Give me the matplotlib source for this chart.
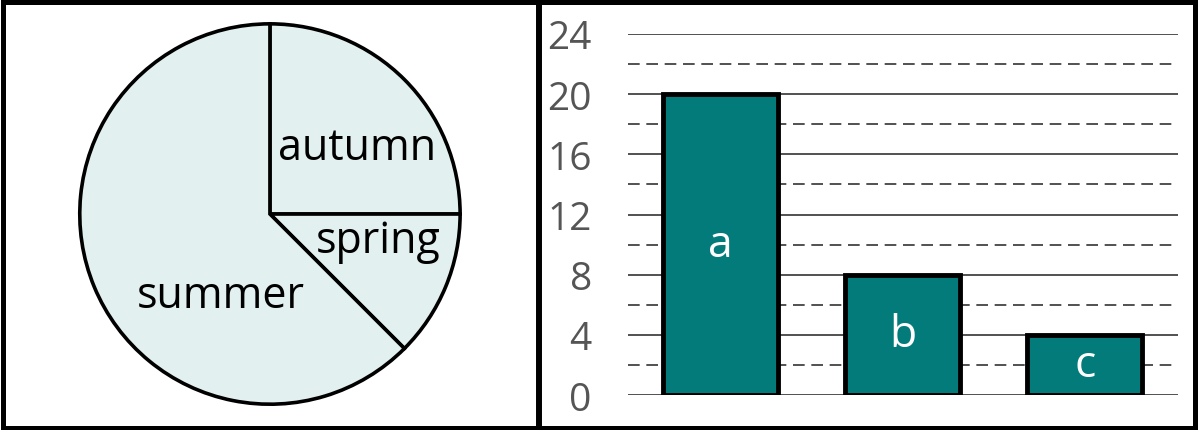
import matplotlib
matplotlib.use("Agg")
from matplotlib import pylab as plt
from matplotlib.patches import Rectangle

# data
seasons = ["autumn", "spring", "summer"]
season_counts = [6, 3, 15]
bar_labels = ["a", "b", "c"]
bar_values = [20, 8, 4]
y_ticks = [0, 4, 8, 12, 16, 20, 24]

plt.rcParams['font.family'] = ['Open Sans', 'DejaVu Sans']

fig = plt.figure(figsize=(12, 4.31), dpi=100)

# pie on the left
ax1 = fig.add_axes([0.0633, 0.051, 0.3233, 0.9002])
wedges, _ = ax1.pie(season_counts, startangle=90, counterclock=False,
                    colors=["#e3f0f0"] * 3,
                    wedgeprops=dict(edgecolor="black", linewidth=2.6))
ax1.set_xlim(-1.02, 1.02)
ax1.set_ylim(-1.02, 1.02)
ax1.set_aspect("equal")
label_pos = {"autumn": (0.46, 0.35), "spring": (0.57, -0.14), "summer": (-0.26, -0.43)}
for s in seasons:
    x, y = label_pos[s]
    ax1.text(x, y, s, ha="center", va="center", fontsize=31, color="black")

# bars on the right
ax2 = fig.add_axes([0.5233, 0.0812, 0.4583, 0.8376])
xs = range(len(bar_labels))
ax2.set_xlim(-0.505, 2.51)
ax2.set_ylim(0, 24)
for t in y_ticks:
    ax2.axhline(t, color="#333333", linewidth=1.2, zorder=1)
for t in y_ticks[:-1]:
    ax2.axhline(t + 2, color="#333333", linewidth=1.2, linestyle=(0, (7, 4)), zorder=1)
ax2.bar(xs, bar_values, width=0.63, color="#047b7b", edgecolor="black",
        linewidth=3.5, zorder=3)
for x, v, lab in zip(xs, bar_values, bar_labels):
    ax2.text(x, v / 2, lab, ha="center", va="center", fontsize=32,
             color="white", zorder=4)
ax2.set_yticks(y_ticks)
ax2.set_yticklabels([str(t) for t in y_ticks], fontsize=28, color="#555555")
ax2.tick_params(axis="y", length=0, pad=26)
ax2.set_xticks([])
for sp in ax2.spines.values():
    sp.set_visible(False)

# panel frames
W, H = 1200, 431
fig.add_artist(Rectangle((2.5 / W, 2.5 / H), (1195 - 2.5) / W, (H - 5) / H,
                         transform=fig.transFigure, fill=False,
                         edgecolor="black", linewidth=3.6))
fig.add_artist(plt.Line2D([538.5 / W, 538.5 / W], [0, 1], transform=fig.transFigure,
                          color="black", linewidth=4.3))

plt.savefig("out.png", dpi=100)
